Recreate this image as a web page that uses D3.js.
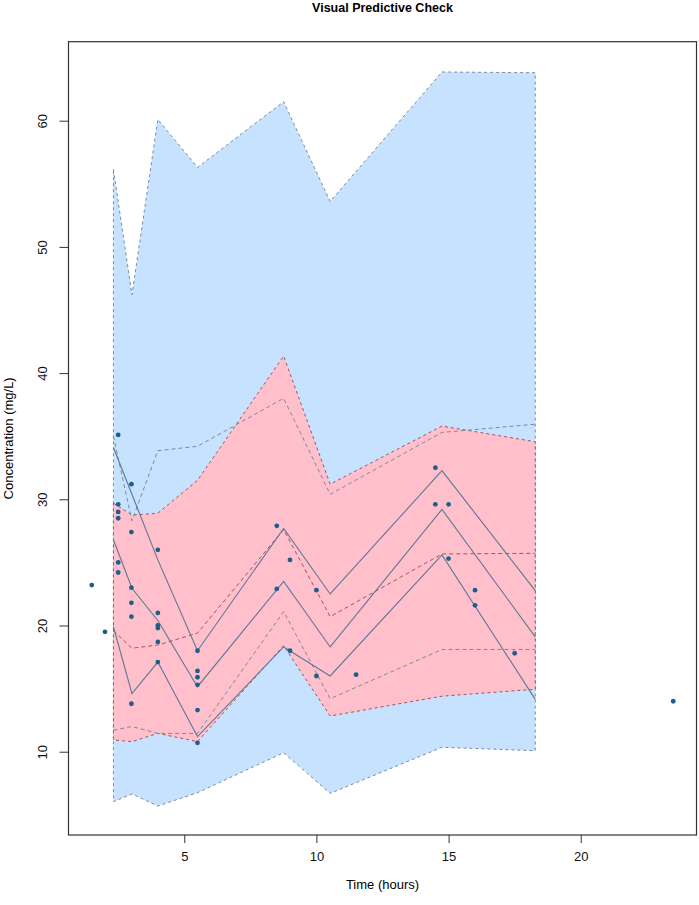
<!DOCTYPE html>
<html>
<head>
<meta charset="utf-8">
<script src="https://cdn.jsdelivr.net/npm/d3@7"></script>
<style>
  body { margin: 0; background: #fff; }
  text { font-family: "Liberation Sans", Arial, sans-serif; }
</style>
</head>
<body>
<div id="chart"></div>
<script>
// bin midpoints (hours)
var binTime = [2.32, 3.02, 4.0, 5.5, 8.76, 10.52, 14.75, 18.28]

// simulated prediction intervals
var outerUpper = [56.15, 46.2, 60.1, 56.3, 61.5, 53.6, 63.86, 63.8]
var outerLower = [6.04, 6.65, 5.7, 6.75, 9.92, 6.7, 10.35, 10.08]
var innerUpper = [29.7, 28.75, 28.9, 31.5, 41.35, 31.2, 35.8, 34.56]
var innerLower = [10.93, 10.8, 11.45, 10.8, 18.4, 12.83, 14.4, 14.95]

// simulated percentile lines
var simHigh = [35.0, 28.3, 33.85, 34.2, 38.0, 30.4, 35.3, 35.95]
var simMedian = [19.6, 18.2, 18.45, 19.4, 27.6, 20.7, 25.67, 25.72]
var simLow = [11.7, 12.0, 11.45, 11.45, 21.1, 14.2, 18.1, 18.1]

// observed percentile lines
var obsHigh = [34.1, 30.4, 25.2, 18.0, 27.7, 22.5, 32.27, 22.76]
var obsMedian = [26.8, 22.95, 20.4, 15.15, 23.5, 18.3, 29.2, 19.1]
var obsLow = [19.9, 14.6, 17.1, 11.2, 18.3, 16.0, 25.6, 14.15]

// observations
var obsTime = [1.5, 2,
    2.5, 2.5, 2.5, 2.5, 2.5, 2.5,
    3, 3, 3, 3, 3, 3,
    4, 4, 4, 4, 4, 4,
    5.5, 5.5, 5.5, 5.5, 5.5, 5.5,
    8.5, 8.5, 9, 9, 10, 10, 11.5,
    14.5, 14.5, 15, 15, 16, 16, 17.5, 23.5]
var obsConc = [23.2, 19.5,
    35.1, 29.6, 29.0, 28.5, 25.0, 24.2,
    31.2, 27.4, 23.0, 21.8, 20.7, 13.8,
    26.0, 21.0, 20.0, 19.8, 18.7, 17.1,
    18.0, 16.4, 15.9, 15.3, 13.3, 10.7,
    27.9, 22.9, 25.2, 18.0, 22.8, 16.0, 16.1,
    32.5, 29.6, 29.6, 25.3, 22.8, 21.6, 17.8, 14.0]

var xTicks = [5, 10, 15, 20]
var yTicks = [10, 20, 30, 40, 50, 60]

var W = 699, H = 905
var plotL = 68.5, plotR = 696.5, plotT = 41.7, plotB = 835

var svg = d3.select("#chart")
    .append("svg")
    .attr("width", W)
    .attr("height", H)

var x = d3.scaleLinear().domain([0.62, 24.38]).range([plotL, plotR])
var y = d3.scaleLinear().domain([3.4, 66.26]).range([plotB, plotT])

function band(hi, lo) {
    var pts = binTime.map(function (t, i) { return [x(t), y(hi[i])] })
    for (var i = binTime.length - 1; i >= 0; i--) pts.push([x(binTime[i]), y(lo[i])])
    return "M" + pts.join("L") + "Z"
}

var line = d3.line()
    .x(function (d) { return x(d[0]) })
    .y(function (d) { return y(d[1]) })

function zip(vals) {
    return binTime.map(function (t, i) { return [t, vals[i]] })
}

svg.append("path")
    .attr("d", band(outerUpper, outerLower))
    .style("fill", "#C6E2FF")
    .style("stroke", "#7d8a99")
    .style("stroke-dasharray", "3,3")

svg.append("path")
    .attr("d", band(innerUpper, innerLower))
    .style("fill", "#FFC0CB")
    .style("stroke", "#a4505e")
    .style("stroke-dasharray", "3,3")

var dashed = [
    { v: simHigh, c: "#7d8a99" },
    { v: simLow, c: "#7d8a99" },
    { v: simMedian, c: "#a8505e" }
]
svg.selectAll("path.sim")
    .data(dashed)
    .enter()
    .append("path")
    .attr("class", "sim")
    .attr("d", function (d) { return line(zip(d.v)) })
    .style("fill", "none")
    .style("stroke", function (d) { return d.c })
    .style("stroke-width", 1)
    .style("stroke-dasharray", "4,3")

svg.selectAll("path.obs")
    .data([obsHigh, obsMedian, obsLow])
    .enter()
    .append("path")
    .attr("class", "obs")
    .attr("d", function (d) { return line(zip(d)) })
    .style("fill", "none")
    .style("stroke", "#5b7896")
    .style("stroke-width", 1.1)

svg.selectAll("circle")
    .data(obsTime)
    .enter()
    .append("circle")
    .attr("cx", function (d) { return x(d) })
    .attr("cy", function (d, i) { return y(obsConc[i]) })
    .attr("r", 2.4)
    .style("fill", "#1f5d8a")

// box
svg.append("rect")
    .attr("x", plotL).attr("y", plotT)
    .attr("width", plotR - plotL).attr("height", plotB - plotT)
    .style("fill", "none")
    .style("stroke", "#333")
    .style("stroke-width", 1.2)

var xAxis = svg.append("g")
    .attr("transform", "translate(0," + plotB + ")")
    .call(d3.axisBottom(x).tickValues(xTicks).tickSize(8).tickPadding(9))
xAxis.select(".domain").remove()

var yAxis = svg.append("g")
    .attr("transform", "translate(" + plotL + ",0)")
    .call(d3.axisLeft(y).tickValues(yTicks).tickSize(9).tickPadding(0))
yAxis.select(".domain").remove()
yAxis.selectAll("text")
    .attr("transform", "translate(-26,0) rotate(-90)")
    .attr("x", 0).attr("dy", "0.35em")
    .style("text-anchor", "middle")

svg.selectAll(".tick line").style("stroke", "#333")
svg.selectAll(".tick text")
    .style("font-size", "13px")
    .style("fill", "#111")
    .style("font-family", "'Liberation Sans', Arial, sans-serif")

svg.append("text")
    .attr("x", (plotL + plotR) / 2)
    .attr("y", 12)
    .attr("text-anchor", "middle")
    .style("font-size", "12.5px")
    .style("font-weight", "bold")
    .text("Visual Predictive Check")

svg.append("text")
    .attr("x", (plotL + plotR) / 2)
    .attr("y", 889)
    .attr("text-anchor", "middle")
    .style("font-size", "13px")
    .text("Time (hours)")

svg.append("text")
    .attr("transform", "translate(13," + (plotT + plotB) / 2 + ") rotate(-90)")
    .attr("text-anchor", "middle")
    .style("font-size", "13px")
    .text("Concentration (mg/L)")
</script>
</body>
</html>
